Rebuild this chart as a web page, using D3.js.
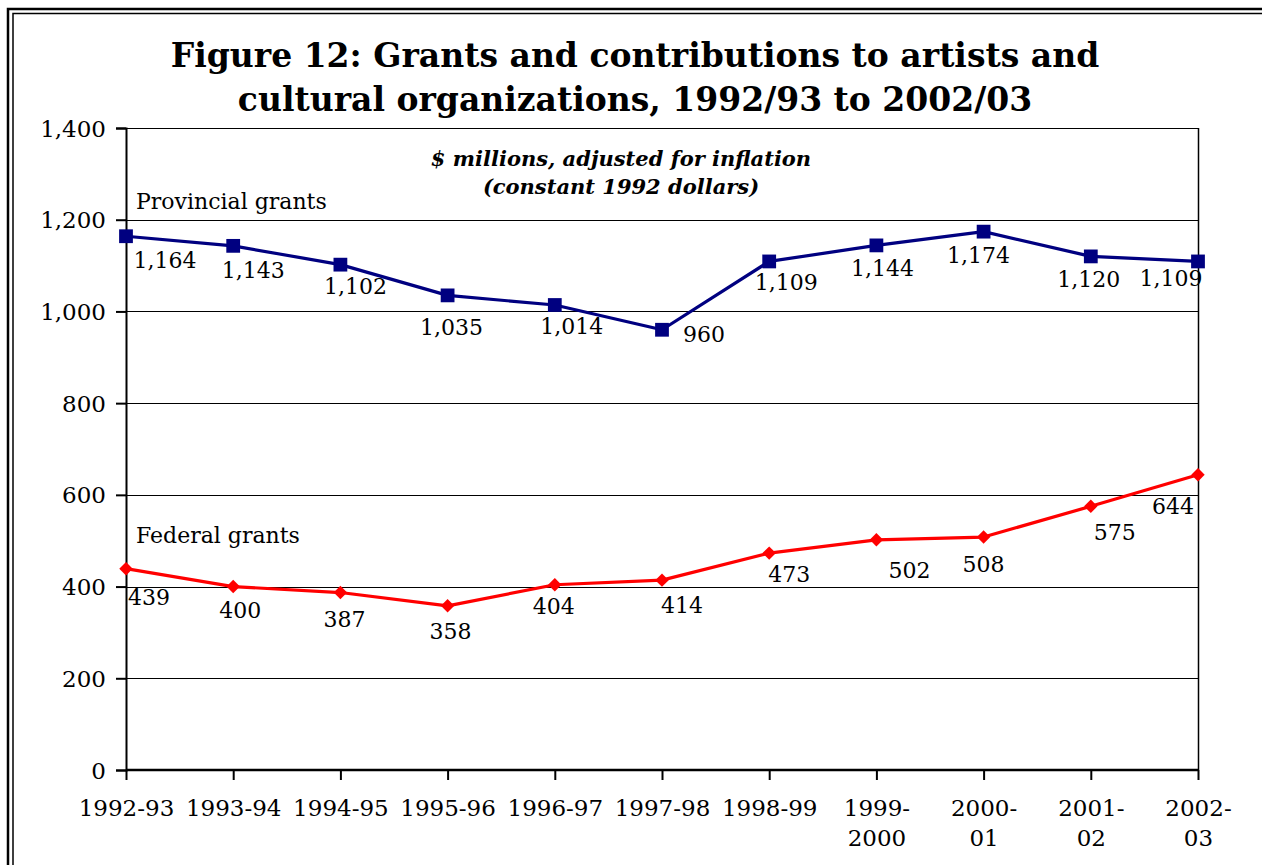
<!DOCTYPE html>
<html>
<head>
<meta charset="utf-8">
<script src="https://cdn.jsdelivr.net/npm/d3@7"></script>
<style>
  html, body { margin: 0; padding: 0; background: #fff; }
  svg { display: block; }
  text { font-family: "DejaVu Serif", "Liberation Serif", serif; }
</style>
</head>
<body>
<svg id="chart" width="1262" height="865"></svg>
<script>
// ---- data ----
const categories = ["1992-93","1993-94","1994-95","1995-96","1996-97","1997-98","1998-99","1999-\n2000","2000-\n01","2001-\n02","2002-\n03"];
const provincial = [1164, 1143, 1102, 1035, 1014, 960, 1109, 1144, 1174, 1120, 1109];
const federal = [439, 400, 387, 358, 404, 414, 473, 502, 508, 575, 644];
const yTicks = [0, 200, 400, 600, 800, 1000, 1200, 1400];
const titleLines = ["Figure 12: Grants and contributions to artists and", "cultural organizations, 1992/93 to 2002/03"];
const subtitleLines = ["$ millions, adjusted for inflation", "(constant 1992 dollars)"];
const provName = "Provincial grants";
const fedName = "Federal grants";
// label nudges (pixels) relative to each point
const provLabelDx = [39, 20, 15, 4, 17, 42, 17, 6, -5, -2, -27];
const provLabelDy = [24, 24, 22, 32, 21, 5, 21, 23, 24, 23, 17];
const fedLabelDx = [23, 7, 4, 3, -1, 20, 20, 33, 0, 24, -25];
const fedLabelDy = [29, 24, 27, 25, 22, 25, 21, 31, 27, 26, 32];

const svg = d3.select("#chart");
const W = 1262, H = 865;
const m = { left: 126, right: 1198, top: 128, bottom: 770 };

// outer double border
svg.append("path").attr("d", `M8,${H+5} V9 H${W+5}`).attr("fill","none").attr("stroke","#000").attr("stroke-width",2.5);
svg.append("path").attr("d", `M13,${H+5} V13.5 H${W+5}`).attr("fill","none").attr("stroke","#000").attr("stroke-width",1.5);

const x = d3.scalePoint().domain(d3.range(categories.length)).range([m.left, m.right]);
const y = d3.scaleLinear().domain([0, 1400]).range([m.bottom, m.top]);

// gridlines
svg.append("g").selectAll("line").data(yTicks.filter(d => d > 0)).join("line")
  .attr("x1", m.left).attr("x2", m.right)
  .attr("y1", d => Math.round(y(d)) + 0.5).attr("y2", d => Math.round(y(d)) + 0.5)
  .attr("stroke", "#000").attr("stroke-width", 1.2);
// right border of plot
svg.append("line").attr("x1", m.right + 0.5).attr("x2", m.right + 0.5)
  .attr("y1", m.top).attr("y2", m.bottom).attr("stroke", "#000").attr("stroke-width", 1.5);

// y axis
const yAxis = d3.axisLeft(y).tickValues(yTicks).tickSize(10).tickPadding(10).tickFormat(d3.format(","));
const gy = svg.append("g").attr("transform", `translate(${m.left},0)`).call(yAxis);
gy.select(".domain").attr("stroke-width", 2);
gy.selectAll(".tick line").attr("stroke-width", 2);
gy.selectAll("text").attr("font-size", 23).attr("font-family", "DejaVu Serif").attr("fill", "#000").attr("dy", "0.35em");

// x axis
const xAxis = d3.axisBottom(x).tickSize(10).tickFormat(() => "");
const gx = svg.append("g").attr("transform", `translate(0,${m.bottom})`).call(xAxis);
gx.select(".domain").attr("stroke-width", 2.5).attr("d", `M${m.left},0H${m.right}`);
gx.selectAll(".tick line").attr("stroke-width", 2);
gx.selectAll(".tick").each(function(d) {
  const lines = categories[d].split("\n");
  const t = d3.select(this).append("text").attr("fill", "#000").attr("font-size", 23)
    .attr("font-family", "DejaVu Serif").attr("text-anchor", "middle");
  lines.forEach((ln, i) => t.append("tspan").attr("x", 0).attr("y", 46 + i * 30).text(ln));
});

// title
const title = svg.append("text").attr("text-anchor", "middle").attr("font-weight", "bold")
  .attr("font-size", 33).attr("font-family", "DejaVu Serif");
titleLines.forEach((ln, i) => title.append("tspan").attr("x", 635).attr("y", 67 + i * 44).text(ln));

// subtitle
const sub = svg.append("text").attr("text-anchor", "middle").attr("font-weight", "bold")
  .attr("font-style", "italic").attr("font-size", 21).attr("font-family", "DejaVu Serif");
subtitleLines.forEach((ln, i) => sub.append("tspan").attr("x", 621).attr("y", 166 + i * 28).text(ln));

// series names
svg.append("text").attr("x", 136).attr("y", 209).attr("font-size", 22).text(provName);
svg.append("text").attr("x", 136).attr("y", 543).attr("font-size", 22).text(fedName);

const line = d3.line().x((d, i) => x(i)).y(d => y(d));

function drawSeries(vals, color, symbolSize, rotate, dxs, dys) {
  svg.append("path").datum(vals).attr("d", line).attr("fill", "none")
    .attr("stroke", color).attr("stroke-width", 3.2).attr("stroke-linejoin", "round");
  svg.append("g").selectAll("path").data(vals).join("path")
    .attr("d", d3.symbol().type(d3.symbolSquare).size(symbolSize))
    .attr("transform", (d, i) => `translate(${x(i)},${y(d)}) rotate(${rotate})`)
    .attr("fill", color);
  svg.append("g").selectAll("text").data(vals).join("text")
    .attr("x", (d, i) => x(i) + dxs[i]).attr("y", (d, i) => y(d) + dys[i])
    .attr("dy", "0.35em").attr("text-anchor", "middle").attr("font-size", 22)
    .attr("fill", "#000").text(d => d3.format(",")(d));
}
drawSeries(provincial, "#000080", 190, 0, provLabelDx, provLabelDy);
drawSeries(federal, "#ff0000", 90, 45, fedLabelDx, fedLabelDy);
</script>
</body>
</html>
